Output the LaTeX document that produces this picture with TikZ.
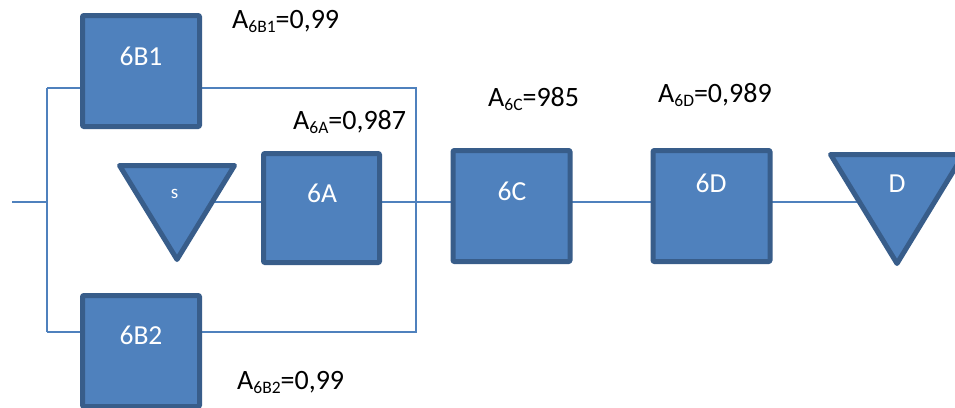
\documentclass[tikz,border=0pt]{standalone}
\usepackage{fontspec}
\setmainfont{Carlito}
\usetikzlibrary{backgrounds}
\definecolor{blkfill}{HTML}{4F81BD}
\definecolor{blkedge}{HTML}{385D8A}
\definecolor{wire}{HTML}{4F81BD}
% availability label: A with a lowered small index
\newcommand\avl[2]{A\raisebox{-4.5pt}{\fontsize{17.5}{17.5}\selectfont #1}=#2}
\begin{document}
\begin{tikzpicture}[x=1pt,y=-1pt,
  blk/.style={draw=blkedge,fill=blkfill,line width=5pt,line join=round,
    rounded corners=1pt,inner sep=0pt,outer sep=0pt,
    minimum width=117pt,minimum height=111pt},
  tri/.style={draw=blkedge,fill=blkfill,line width=5pt,line join=round},
  blktext/.style={anchor=base,text=white,inner sep=0pt,font=\fontsize{27.5}{27.5}\selectfont},
  avail/.style={anchor=base west,inner sep=0pt,font=\fontsize{28}{28}\selectfont},
  wireline/.style={draw=wire,line width=2pt}]
\useasboundingbox (0,0) rectangle (955,407);
\clip (0,0) rectangle (955,407);

% blocks
\node[blk] (b1) at (141,71) {};
\node[blk] (b2) at (141,351) {};
\node[blk,minimum width=116pt,minimum height=109pt] (a6) at (321.5,208) {};
\node[blk] (c6) at (511.5,206) {};
\node[blk] (d6) at (711.5,206) {};

% triangles
\draw[tri] (119.5,165.5) -- (234.5,165.5) -- (177,259.5) -- cycle;
\draw[tri] (830.5,154.5) -- (963.5,154.5) -- (897,263.5) -- cycle;
\coordinate (sOut) at (213,202);
\coordinate (dIn) at (861,202);

% block texts
\node[blktext] (t1) at (141,65) {6B1};
\node[blktext] (t2) at (141,344) {6B2};
\node[blktext] (ta) at (322,202) {6A};
\node[blktext] (tc) at (512,200) {6C};
\node[blktext] (td) at (711,192) {6D};
\node[blktext] (tD) at (897,192) {D};
\node[blktext,font=\fontsize{19}{19}\selectfont] (ts) at (174.5,198) {s};

% availability labels
\node[avail] (l1) at (232,28) {\avl{6B1}{0,99}};
\node[avail] (la) at (293,129) {\avl{6A}{0,987}};
\node[avail] (lc) at (488,106) {\avl{6C}{985}};
\node[avail] (ld) at (658,102) {\avl{6D}{0,989}};
\node[avail] (l2) at (237,389) {\avl{6B2}{0,99}};

% wiring
\coordinate (in) at (12,202);
\coordinate (jL) at (47,202);
\coordinate (jT) at (47,88);
\coordinate (jB) at (47,332);
\coordinate (rT) at (416,88);
\coordinate (rB) at (416,332);
\begin{scope}[on background layer]
\fill[white] (0,0) rectangle (955,407);
\draw[wireline] (in) -- (jL);
\draw[wireline] (jT) -- (jB);
\draw[wireline] (jT) -- (jT -| b1.west);
\draw[wireline] (jB) -- (jB -| b2.west);
\draw[wireline] (b1.east |- rT) -- (rT) -- (rB) -- (b2.east |- rB);
\draw[wireline] (sOut) -- (sOut -| a6.west);
\draw[wireline] (a6.east |- sOut) -- (c6.west |- sOut);
\draw[wireline] (c6.east |- sOut) -- (d6.west |- sOut);
\draw[wireline] (d6.east |- sOut) -- (dIn);
\end{scope}
\end{tikzpicture}
\end{document}
